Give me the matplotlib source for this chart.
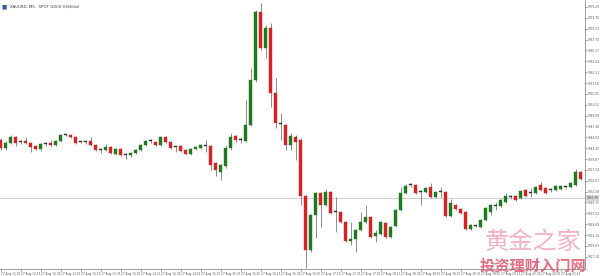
import matplotlib.pyplot as plt
import numpy as np

plt.rcParams['font.family'] = ['DejaVu Sans', 'Noto Sans CJK SC']

# XAUUSD M5 candles (open, high, low, close)
opens = [
    1944.30, 1942.44, 1943.60, 1945.00, 1943.84, 1944.07, 1943.60, 1942.90, 1942.20, 1943.37,
    1943.60, 1943.14, 1944.07, 1945.47, 1945.47, 1945.00, 1943.84, 1943.84, 1944.07, 1943.14,
    1941.97, 1941.97, 1942.67, 1941.04, 1942.20, 1940.80, 1940.80, 1941.27, 1941.97, 1943.14,
    1944.07, 1943.84, 1943.14, 1945.00, 1943.84, 1942.67, 1942.90, 1941.97, 1941.04, 1942.20,
    1942.44, 1942.90, 1942.90, 1938.94, 1936.84, 1938.24, 1942.44, 1945.23, 1944.30, 1944.07,
    1947.80, 1958.28, 1974.12, 1965.74, 1970.40, 1955.25, 1948.03, 1947.80, 1943.14, 1945.00,
    1944.30, 1931.25, 1918.67, 1926.82, 1931.95, 1929.16, 1932.18, 1927.52, 1927.52, 1925.19,
    1920.77, 1921.23, 1923.33, 1925.19, 1926.36, 1921.93, 1922.40, 1924.96, 1921.70, 1924.26,
    1927.99, 1931.95, 1933.82, 1933.82, 1932.18, 1932.18, 1933.35, 1931.02, 1932.18, 1932.18,
    1926.59, 1929.16, 1928.22, 1927.52, 1923.56, 1924.26, 1924.03, 1925.66, 1927.52, 1928.92,
    1928.92, 1929.85, 1931.02, 1931.25, 1930.79, 1932.65, 1931.95, 1931.95, 1933.82, 1933.12,
    1932.65, 1932.65, 1932.88, 1933.35, 1933.35, 1933.82, 1936.84,
]
highs = [
    1944.77, 1944.07, 1945.47, 1945.23, 1944.30, 1945.00, 1943.84, 1943.14, 1943.60, 1943.84,
    1944.30, 1944.30, 1945.70, 1945.70, 1945.70, 1945.23, 1944.07, 1944.07, 1945.00, 1943.37,
    1942.44, 1943.37, 1942.90, 1942.44, 1942.44, 1941.27, 1941.50, 1942.20, 1943.37, 1944.30,
    1944.53, 1944.07, 1945.23, 1945.23, 1944.07, 1942.90, 1943.14, 1942.20, 1942.44, 1942.90,
    1943.37, 1944.30, 1943.14, 1939.17, 1938.71, 1943.14, 1945.93, 1945.47, 1945.00, 1953.62,
    1961.08, 1974.59, 1976.22, 1971.10, 1971.56, 1958.75, 1950.59, 1948.03, 1945.93, 1945.47,
    1944.77, 1931.49, 1927.06, 1932.18, 1932.18, 1932.88, 1932.42, 1931.02, 1927.76, 1925.43,
    1925.19, 1923.56, 1927.52, 1929.16, 1926.59, 1923.33, 1925.43, 1925.19, 1924.26, 1928.22,
    1933.35, 1934.05, 1934.28, 1934.05, 1932.65, 1933.35, 1934.28, 1932.42, 1933.35, 1932.42,
    1930.55, 1929.39, 1928.46, 1927.76, 1924.73, 1924.50, 1925.89, 1928.69, 1929.39, 1929.85,
    1930.55, 1931.95, 1931.49, 1931.49, 1932.65, 1932.88, 1933.12, 1933.58, 1934.51, 1933.35,
    1933.12, 1933.82, 1933.82, 1933.58, 1934.51, 1937.54, 1937.08,
]
lows = [
    1941.97, 1941.97, 1943.37, 1942.90, 1943.37, 1943.37, 1941.50, 1941.97, 1941.74, 1942.90,
    1942.90, 1942.90, 1943.84, 1945.23, 1944.77, 1943.37, 1943.60, 1943.37, 1942.90, 1941.74,
    1941.27, 1941.74, 1941.04, 1940.80, 1940.57, 1939.87, 1940.34, 1941.04, 1941.74, 1942.90,
    1943.60, 1942.90, 1942.90, 1943.60, 1942.20, 1941.50, 1941.50, 1940.80, 1940.80, 1941.97,
    1942.20, 1941.50, 1937.31, 1935.91, 1934.98, 1937.78, 1941.97, 1943.84, 1943.60, 1943.84,
    1947.56, 1957.81, 1965.27, 1963.41, 1951.99, 1947.10, 1944.30, 1941.97, 1941.97, 1939.64,
    1929.16, 1914.48, 1918.20, 1921.47, 1924.03, 1928.92, 1927.06, 1922.86, 1924.96, 1920.53,
    1919.83, 1918.20, 1923.10, 1924.96, 1921.47, 1920.53, 1922.17, 1921.47, 1921.47, 1924.03,
    1927.76, 1931.72, 1933.35, 1931.72, 1929.16, 1931.95, 1930.79, 1930.79, 1931.02, 1926.36,
    1926.36, 1927.99, 1927.06, 1923.33, 1923.33, 1924.03, 1923.80, 1925.43, 1926.82, 1927.99,
    1928.69, 1929.62, 1930.55, 1930.09, 1930.55, 1931.02, 1931.02, 1931.72, 1932.42, 1931.72,
    1932.18, 1932.42, 1932.65, 1933.12, 1933.12, 1933.58, 1934.98,
]
closes = [
    1942.44, 1943.60, 1945.00, 1943.60, 1943.84, 1943.60, 1942.67, 1942.20, 1943.37, 1943.37,
    1943.14, 1944.07, 1945.47, 1945.47, 1945.00, 1943.60, 1943.84, 1943.84, 1943.14, 1941.97,
    1941.97, 1942.67, 1941.27, 1942.20, 1940.80, 1940.80, 1941.27, 1941.97, 1943.14, 1944.07,
    1944.07, 1943.14, 1945.00, 1943.84, 1942.44, 1942.67, 1941.74, 1941.04, 1942.20, 1942.67,
    1943.14, 1942.90, 1938.47, 1937.31, 1938.47, 1942.44, 1945.00, 1944.30, 1944.30, 1947.80,
    1958.28, 1974.12, 1965.74, 1970.40, 1955.25, 1948.26, 1948.03, 1943.14, 1945.23, 1943.84,
    1931.25, 1918.67, 1926.82, 1931.95, 1929.16, 1932.18, 1927.29, 1927.52, 1925.19, 1920.77,
    1921.23, 1923.33, 1925.19, 1926.36, 1921.70, 1922.63, 1925.19, 1921.70, 1924.03, 1927.99,
    1931.95, 1933.58, 1933.82, 1931.95, 1932.18, 1933.12, 1931.02, 1932.18, 1932.18, 1926.59,
    1929.62, 1928.22, 1927.29, 1923.56, 1924.50, 1924.26, 1925.66, 1928.46, 1929.16, 1928.92,
    1930.32, 1931.25, 1931.02, 1930.32, 1932.42, 1931.25, 1931.95, 1933.35, 1932.65, 1931.95,
    1932.65, 1933.58, 1933.58, 1933.35, 1934.28, 1936.84, 1935.21,
]

price_ticks = [
    1975.29, 1972.76, 1970.23, 1967.70, 1965.17, 1962.64, 1960.11, 1957.58,
    1955.05, 1952.52, 1949.99, 1947.46, 1944.93, 1942.40, 1939.87, 1937.34,
    1934.81, 1932.28, 1929.75, 1927.22, 1924.69, 1922.16, 1919.63, 1917.10,
]
time_labels = [
    "11:55", "12:15", "12:35", "12:55", "13:15", "13:35", "13:55", "14:15",
    "14:35", "14:55", "15:15", "15:35", "15:55", "16:15", "16:35", "16:55",
    "17:15", "17:35", "17:55", "18:15", "18:35", "18:55", "19:15", "19:35",
    "19:55", "20:15", "20:35", "20:55", "21:15",
]
bid_line = 1930.79

o = np.array(opens)
h = np.array(highs)
l = np.array(lows)
c = np.array(closes)
x = np.arange(len(o))

fig = plt.figure(figsize=(6.0, 2.76), dpi=100)
ax = fig.add_axes([0, 7 / 276, 585 / 600, 269 / 276])

# current price line
ax.axhline(bid_line, color="#c8c8c8", lw=0.6, zorder=1)

colors = np.where(c > o, "#1f7a1f", np.where(c < o, "#d62222", "#333333"))
ax.vlines(x, l, h, color="#8c8c8c", lw=0.7, zorder=2)
body = np.maximum(np.abs(c - o), 0.12)
ax.bar(x, body, bottom=np.minimum(o, c), width=0.62, color=colors,
       edgecolor=colors, linewidth=0.3, zorder=3)

ax.set_xlim(-0.14, 116.86)
ax.set_ylim(1914.24, 1976.92)

ax.yaxis.tick_right()
ax.set_yticks(price_ticks)
ax.set_yticklabels([f"{v:.2f}" for v in price_ticks])
ax.set_xticks(x[::4][:len(time_labels)])
ax.set_xticklabels(["27 Aug " + t for t in time_labels], ha="left")
ax.tick_params(axis="y", labelsize=2.1, length=1.2, width=0.4, pad=0.8, colors="#555555")
ax.tick_params(axis="x", labelsize=2.1, length=1.2, width=0.4, pad=0.6, colors="#555555")

for side in ["left", "top"]:
    ax.spines[side].set_visible(False)
for side in ["right", "bottom"]:
    ax.spines[side].set_color("#777777")
    ax.spines[side].set_linewidth(0.5)

# price box on the axis
ax.text(1.003, (bid_line - 1914.24) / (1976.92 - 1914.24), f"{bid_line:.2f}",
        transform=ax.transAxes, fontsize=2.1, va="center", ha="left", color="#333333",
        bbox=dict(boxstyle="square,pad=0.2", fc="#d9d9d9", ec="none"), clip_on=False)

# title in the corner
fig.text(0.003, 0.985, "\u25a0", fontsize=4, color="#3355aa", va="top")
fig.text(0.016, 0.985, "XAUUSD, M5:  SPOT GOLD (US$/oz)", fontsize=2.8,
         color="#333333", va="top")

# watermark
fig.text(0.889, 0.075, "黄金之家", fontsize=17.5, color="#f2a6b8", ha="center",
         va="bottom", family=["Noto Sans CJK SC"], alpha=0.85)
fig.text(0.889, 0.008, "投资理财入门网", fontsize=11, color="#e0536e", ha="center",
         va="bottom", family=["Noto Sans CJK SC"], weight="bold", alpha=0.85)

plt.savefig("out.png", dpi=100)
